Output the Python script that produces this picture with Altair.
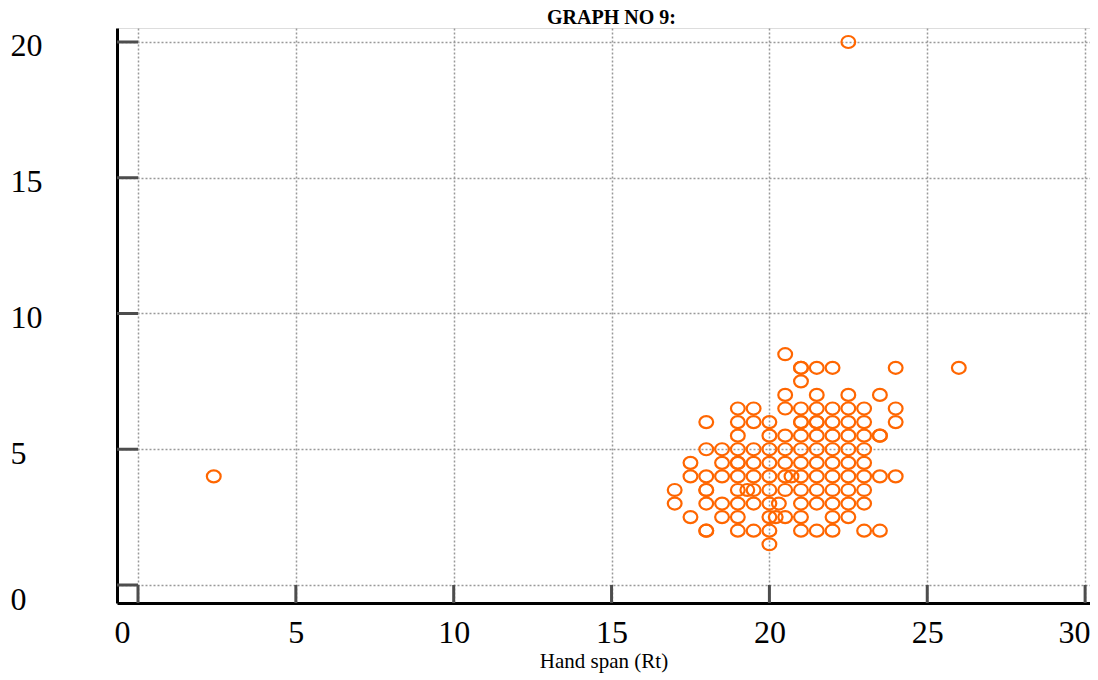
import altair as alt
import pandas as pd

hand_span = [
    22.5,
    20.5,
    21, 21, 21.5, 22, 24, 26,
    21,
    20.5, 21.5, 22.5, 23.5,
    19, 19.5, 20.5, 21, 21.5, 22, 22.5, 23, 24,
    18, 19, 19.5, 20, 21, 21, 21.5, 21.5, 22, 22.5, 23, 24,
    19, 20, 20.5, 21, 21.5, 22, 22.5, 23, 23.5, 23.5,
    18, 18.5, 19, 19.5, 20, 20.5, 21, 21.5, 22, 22.5, 23,
    17.5, 18.5, 19, 19, 19.5, 20, 20.5, 21, 21.5, 22, 22.5, 23,
    2.4, 17.5, 18, 18.5, 19, 19.5, 20, 20.5, 20.7, 21, 21.5, 22, 22.5, 23, 23.5, 24,
    17, 18, 18, 19, 19.3, 19.5, 20, 20.5, 21, 21.5, 22, 22.5, 23,
    17, 18, 18.5, 19, 19.5, 20, 20.3, 21, 21.5, 22, 22.5, 23,
    17.5, 18.5, 19, 20, 20.2, 20.5, 21, 22, 22.5,
    18, 18, 19, 19.5, 20, 21, 21.5, 22, 23, 23.5,
    20,
]
measure = (
    [20]
    + [8.5]
    + [8] * 6
    + [7.5]
    + [7] * 4
    + [6.5] * 9
    + [6] * 12
    + [5.5] * 10
    + [5] * 11
    + [4.5] * 12
    + [4] * 16
    + [3.5] * 13
    + [3] * 12
    + [2.5] * 9
    + [2] * 10
    + [1.5]
)

x_ticks = [0, 5, 10, 15, 20, 25, 30]
y_ticks = [0, 5, 10, 15, 20]

df = pd.DataFrame({"span": hand_span, "val": measure})
df_xt = pd.DataFrame({"t": x_ticks})
df_yt = pd.DataFrame({"t": y_ticks})

W, H = 973, 575
xscale = alt.Scale(domain=[-0.665, 30.155], nice=False, zero=False)
yscale = alt.Scale(domain=[-0.663, 20.515], nice=False, zero=False)
FONT = "Liberation Serif"

x_axis = alt.Axis(
    values=x_ticks,
    title="Hand span (Rt)",
    titleFont=FONT,
    titleFontSize=21,
    titleFontWeight="normal",
    titleColor="black",
    titlePadding=2,
    labelFont=FONT,
    labelFontSize=32,
    labelColor="black",
    labelPadding=14,
    labelFlush=False,
    labelOverlap=False,
    labelOffset={
        "condition": [
            {"test": "datum.value == 0", "value": -16},
            {"test": "datum.value == 30", "value": -11},
        ],
        "value": 0,
    },
    ticks=False,
    tickSize=0,
    domainColor="black",
    domainWidth=3,
    grid=True,
    gridColor="#999999",
    gridDash=[2, 2],
    gridWidth=1.5,
)
y_axis = alt.Axis(
    values=y_ticks,
    title=None,
    labelFont=FONT,
    labelFontSize=32,
    labelColor="black",
    labelAlign="left",
    labelBaseline="middle",
    labelPadding=107,
    labelFlush=False,
    labelOverlap=False,
    labelOffset={"condition": {"test": "datum.value == 0", "value": 15}, "value": 4},
    ticks=False,
    tickSize=0,
    domainColor="black",
    domainWidth=3,
    grid=True,
    gridColor="#999999",
    gridDash=[2, 2],
    gridWidth=1.5,
)

ellipse = "M -1 0 A 1 0.87 0 1 0 1 0 A 1 0.87 0 1 0 -1 0 Z"

xtick_rules = alt.Chart(df_xt).mark_rule(color="#4d4d4d", strokeWidth=3).encode(
    x=alt.X("t:Q", scale=xscale, axis=x_axis),
    y=alt.Y(datum=0, scale=yscale, axis=y_axis),
    y2=alt.value(H),
)

ytick_rules = alt.Chart(df_yt).mark_rule(color="#4d4d4d", strokeWidth=3).encode(
    y=alt.Y("t:Q", scale=yscale, axis=y_axis),
    x=alt.X(datum=0, scale=xscale, axis=x_axis),
    x2=alt.value(0),
)

points = alt.Chart(df).mark_point(
    shape=ellipse, filled=False, color="#FF6600", strokeWidth=2.2, size=190, opacity=1
).encode(
    x=alt.X("span:Q", scale=xscale, axis=x_axis),
    y=alt.Y("val:Q", scale=yscale, axis=y_axis),
)

chart = alt.layer(xtick_rules, ytick_rules, points).properties(
    width=W,
    height=H,
    title=alt.TitleParams(
        "GRAPH NO 9:",
        font=FONT,
        fontSize=20,
        fontWeight="bold",
        color="black",
        anchor="middle",
        frame="group",
        offset=6,
        dx=8,
        dy=6,
    ),
    autosize=alt.AutoSizeParams(type="none"),
    padding={"left": 109, "top": 20, "right": 0, "bottom": 70},
).configure_view(stroke=None).configure(background="white")

chart.save("out.html", embed_options={"renderer": "svg", "actions": False})
